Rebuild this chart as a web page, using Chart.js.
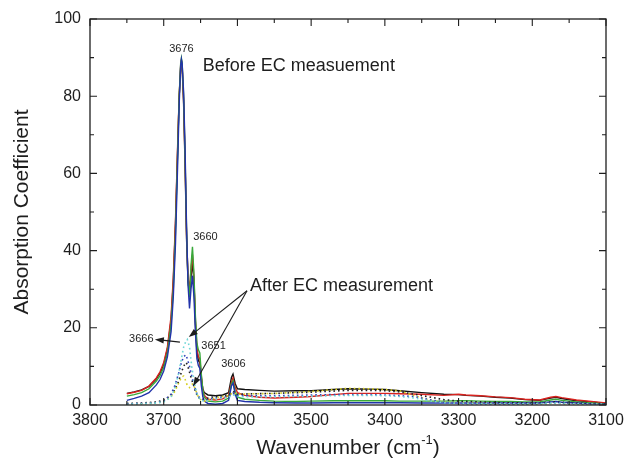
<!DOCTYPE html>
<html>
<head>
<meta charset="utf-8">
<script src="https://cdn.jsdelivr.net/npm/chart.js@4.4.1/dist/chart.umd.min.js"></script>
<style>
  body { margin: 0; background: #fff; }
  #wrap { width: 630px; height: 467px; }
</style>
</head>
<body>
<div id="wrap"><canvas id="chart" width="630" height="467"></canvas></div>
<script>
// wavenumber grid (cm-1) shared by the four "before" spectra
const solidWn = [3750, 3740, 3730, 3720, 3710, 3705, 3700, 3695, 3690, 3687, 3684, 3681, 3679, 3677, 3676, 3675,
  3673, 3671, 3669, 3667, 3665, 3663, 3661, 3659, 3657, 3655, 3653, 3651, 3649, 3647, 3645, 3640, 3630, 3620,
  3612, 3608, 3606, 3603, 3600, 3590, 3570, 3550, 3520, 3500, 3470, 3450, 3420, 3400, 3380, 3350, 3320, 3300,
  3290, 3270, 3250, 3230, 3210, 3190, 3175, 3168, 3160, 3140, 3120, 3100];

const blackSolid = [3.0, 3.4, 3.9, 4.8, 6.8, 8.3, 10.5, 14.5, 22, 32, 47, 67, 80, 87.5, 89, 87.5,
  78, 62, 43, 32, 29, 33, 37, 32, 21, 14, 11.5, 11, 7, 4.2, 3.2, 2.6, 2.4, 2.6,
  3.2, 7.2, 8.0, 5.5, 4.2, 4.0, 3.8, 3.6, 3.7, 3.7, 4.0, 4.2, 4.1, 4.0, 3.7, 3.2, 2.8, 2.7,
  2.5, 2.3, 2.0, 1.8, 1.4, 1.2, 1.8, 2.0, 1.7, 1.1, 0.8, 0.4];
const redSolid = [2.9, 3.3, 3.8, 4.9, 7.0, 8.6, 11, 15, 23, 33, 48, 68, 80, 88, 89.3, 88,
  79, 63, 44, 33, 30, 35, 39, 33, 22, 15, 12.5, 12, 7.5, 4, 2.5, 1.5, 1.3, 1.6,
  2.5, 6.0, 7.0, 4.5, 3.2, 2.5, 2.0, 1.8, 2.0, 2.2, 2.7, 3.0, 3.0, 3.0, 2.9, 2.8, 2.5, 2.8,
  2.6, 2.4, 2.1, 1.9, 1.5, 1.3, 2.0, 2.2, 1.9, 1.3, 0.9, 0.5];
const greenSolid = [2.3, 2.7, 3.2, 4.2, 6.2, 7.6, 9.8, 13.5, 21, 30, 45, 66, 80, 88.5, 89.8, 88.5,
  80, 64, 45, 32, 28, 36, 41, 34, 23, 16, 14.3, 13.5, 8, 4, 2, 1.0, 0.8, 1.0,
  1.8, 5.5, 6.3, 3.5, 2.0, 1.5, 1.2, 1.0, 0.9, 1.0, 1.1, 1.1, 1.1, 1.1, 1.0, 1.0, 1.0, 1.1,
  1.1, 1.0, 0.9, 0.9, 0.8, 0.8, 1.3, 1.5, 1.2, 0.8, 0.5, 0.3];
const blueSolid = [1.2, 1.7, 2.3, 3.2, 5.2, 6.6, 8.8, 12.5, 19, 28, 42, 63, 78, 88, 89.6, 88.5,
  81, 66, 46, 31, 25, 30, 33.5, 28, 19, 12, 10.2, 9.5, 5, 2.2, 1.0, 0.4, 0.2, 0.4,
  1.2, 5.0, 5.7, 2.8, 1.2, 0.9, 0.7, 0.6, 0.5, 0.5, 0.6, 0.6, 0.6, 0.6, 0.6, 0.5, 0.5, 0.5,
  0.5, 0.5, 0.5, 0.5, 0.5, 0.5, 0.8, 0.9, 0.7, 0.5, 0.3, 0.2];

// wavenumber grid shared by the four "after" spectra
const dottedWn = [3750, 3730, 3710, 3700, 3690, 3685, 3680, 3676, 3673, 3670, 3668, 3665, 3662, 3660, 3657,
  3654, 3650, 3645, 3640, 3630, 3620, 3612, 3606, 3600, 3580, 3550, 3520, 3500, 3470, 3450, 3420, 3400,
  3380, 3360, 3340, 3320, 3300, 3270, 3240, 3200, 3170, 3140, 3100];

const blackDotted = [0.4, 0.5, 0.8, 1.2, 2.5, 4, 6, 8.5, 10, 11, 10.5, 8.5, 6.5, 5.5, 3.5,
  2.2, 1.5, 1.5, 1.8, 2.2, 2.4, 2.6, 3.5, 2.8, 2.9, 3.0, 3.2, 3.3, 3.6, 3.8, 3.8, 3.7,
  3.4, 2.8, 2.1, 1.4, 1.0, 0.8, 0.6, 0.5, 0.8, 0.5, 0.3];
const yellowDotted = [0.2, 0.3, 0.5, 1.0, 2.2, 3.5, 5.5, 7.2, 7.5, 6.2, 5.0, 4.5, 5.3, 5.5, 4.0,
  2.5, 1.4, 1.0, 1.2, 1.8, 2.2, 2.4, 3.2, 2.8, 2.9, 3.0, 3.3, 3.5, 4.0, 4.3, 4.2, 4.0,
  3.7, 2.4, 1.3, 0.8, 0.5, 0.4, 0.3, 0.3, 0.4, 0.3, 0.2];
const blueDotted = [0.3, 0.4, 0.6, 1.0, 2.8, 5, 8, 11, 12.5, 13, 12, 10, 7.5, 6, 4,
  2.5, 1.6, 1.3, 1.4, 1.8, 2.0, 2.2, 3.0, 2.5, 2.4, 2.4, 2.5, 2.6, 2.7, 2.7, 2.7, 2.6,
  2.4, 2.2, 1.4, 0.7, 0.4, 0.3, 0.3, 0.3, 0.6, 0.4, 0.2];
const cyanDotted = [0.2, 0.3, 0.5, 0.8, 2.0, 4.5, 8, 12, 15, 16.5, 17, 15, 10, 7.5, 4.5,
  2.5, 1.3, 1.0, 1.1, 1.5, 1.8, 2.0, 2.6, 2.2, 2.1, 2.1, 2.2, 2.3, 2.4, 2.5, 2.5, 2.4,
  2.2, 1.8, 1.1, 0.6, 0.4, 0.3, 0.3, 0.3, 0.5, 0.3, 0.2];

const xTicks = [3800, 3700, 3600, 3500, 3400, 3300, 3200, 3100];
const yTicks = [0, 20, 40, 60, 80, 100];

const FONT = '"Liberation Sans", Arial, Helvetica, sans-serif';
const INK = '#1e1e1e';

function pts(wn, vals) {
  return wn.map((w, i) => ({ x: w, y: vals[i] }));
}

function solid(label, wn, vals, color, order) {
  return { label, data: pts(wn, vals), borderColor: color, borderWidth: 1.4, pointRadius: 0, tension: 0, order };
}
function dotted(label, wn, vals, color, order) {
  return { label, data: pts(wn, vals), borderColor: color, borderWidth: 1.6, borderDash: [1.6, 3],
    pointRadius: 0, tension: 0, order };
}

function arrow(ctx, x1, y1, x2, y2) {
  // line from (x1,y1) with a filled head at (x2,y2)
  const ang = Math.atan2(y2 - y1, x2 - x1);
  const len = 9, half = 3.2;
  ctx.beginPath();
  ctx.moveTo(x1, y1);
  ctx.lineTo(x2 - Math.cos(ang) * len * 0.8, y2 - Math.sin(ang) * len * 0.8);
  ctx.stroke();
  ctx.beginPath();
  ctx.moveTo(x2, y2);
  ctx.lineTo(x2 - Math.cos(ang) * len + Math.sin(ang) * half, y2 - Math.sin(ang) * len - Math.cos(ang) * half);
  ctx.lineTo(x2 - Math.cos(ang) * len - Math.sin(ang) * half, y2 - Math.sin(ang) * len + Math.cos(ang) * half);
  ctx.closePath();
  ctx.fill();
}

const frameAndNotes = {
  id: 'frameAndNotes',
  afterDraw(chart) {
    const { ctx, chartArea: a, scales: { x, y } } = chart;
    ctx.save();
    ctx.strokeStyle = INK;
    ctx.fillStyle = INK;
    ctx.lineWidth = 1.3;
    ctx.strokeRect(a.left, a.top, a.right - a.left, a.bottom - a.top);

    // inward ticks on all four sides
    ctx.lineWidth = 1.1;
    ctx.beginPath();
    for (let v = 3100; v <= 3800; v += 50) {
      const px = x.getPixelForValue(v);
      const len = v % 100 === 0 ? 7 : 4;
      ctx.moveTo(px, a.bottom); ctx.lineTo(px, a.bottom - len);
      ctx.moveTo(px, a.top); ctx.lineTo(px, a.top + len);
    }
    for (let v = 0; v <= 100; v += 10) {
      const py = y.getPixelForValue(v);
      const len = v % 20 === 0 ? 7 : 4;
      ctx.moveTo(a.left, py); ctx.lineTo(a.left + len, py);
      ctx.moveTo(a.right, py); ctx.lineTo(a.right - len, py);
    }
    ctx.stroke();

    // axis titles
    ctx.font = '21px ' + FONT;
    ctx.textBaseline = 'middle';
    ctx.save();
    ctx.translate(22, (a.top + a.bottom) / 2);
    ctx.rotate(-Math.PI / 2);
    ctx.textAlign = 'center';
    ctx.fillText('Absorption Coefficient', 0, 0);
    ctx.restore();

    const main = 'Wavenumber (cm';
    const sup = '-1';
    ctx.font = '21px ' + FONT;
    const wMain = ctx.measureText(main).width;
    const wClose = ctx.measureText(')').width;
    ctx.font = '13px ' + FONT;
    const wSup = ctx.measureText(sup).width;
    const total = wMain + wSup + wClose;
    let tx = (a.left + a.right) / 2 - total / 2;
    const ty = 448;
    ctx.textAlign = 'left';
    ctx.font = '21px ' + FONT;
    ctx.fillText(main, tx, ty);
    ctx.font = '13px ' + FONT;
    ctx.fillText(sup, tx + wMain, ty - 8);
    ctx.font = '21px ' + FONT;
    ctx.fillText(')', tx + wMain + wSup, ty);

    // peak labels and notes
    const X = v => x.getPixelForValue(v);
    const Y = v => y.getPixelForValue(v);
    ctx.font = '11px ' + FONT;
    ctx.textAlign = 'center';
    ctx.fillText('3676', X(3676), Y(92.2));
    ctx.textAlign = 'left';
    ctx.fillText('3660', X(3660), Y(43.6));
    ctx.fillText('3666', X(3747), Y(17));
    ctx.fillText('3651', X(3649), Y(15.3));
    ctx.fillText('3606', X(3622), Y(10.7));

    ctx.font = '18px ' + FONT;
    ctx.fillText('Before EC measuement', X(3647), Y(87.8));
    ctx.fillText('After EC measurement', X(3583), Y(30.9));

    ctx.lineWidth = 1.1;
    arrow(ctx, X(3678), Y(16.3), X(3712), Y(17));
    arrow(ctx, X(3587), Y(29.6), X(3666), Y(17.6));
    arrow(ctx, X(3587), Y(29.6), X(3660), Y(4.9));
    ctx.restore();
  }
};

new Chart(document.getElementById('chart'), {
  type: 'line',
  data: {
    datasets: [
      solid('black', solidWn, blackSolid, '#111111', 8),
      solid('red', solidWn, redSolid, '#d8231f', 7),
      solid('green', solidWn, greenSolid, '#38a83a', 6),
      solid('blue', solidWn, blueSolid, '#2233aa', 5),
      dotted('black after', dottedWn, blackDotted, '#222222', 4),
      dotted('yellow after', dottedWn, yellowDotted, '#d6cf1e', 3),
      dotted('blue after', dottedWn, blueDotted, '#3344bb', 2),
      dotted('cyan after', dottedWn, cyanDotted, '#6fd6d6', 1)
    ]
  },
  options: {
    responsive: false,
    animation: false,
    layout: { padding: { top: 19, right: 24, left: 0, bottom: 0 } },
    plugins: { legend: { display: false }, tooltip: { enabled: false } },
    scales: {
      x: {
        type: 'linear',
        reverse: true,
        min: 3100,
        max: 3800,
        afterBuildTicks: s => { s.ticks = xTicks.map(v => ({ value: v })); },
        afterFit: s => { s.height = 62; },
        grid: { display: false, drawTicks: false },
        border: { display: false },
        ticks: { color: INK, padding: 6, maxRotation: 0, font: { family: FONT, size: 16 }, callback: v => String(v) }
      },
      y: {
        min: 0,
        max: 100,
        afterBuildTicks: s => { s.ticks = yTicks.map(v => ({ value: v })); },
        afterFit: s => { s.width = 90; },
        grid: { display: false, drawTicks: false },
        border: { display: false },
        ticks: { color: INK, padding: 9, font: { family: FONT, size: 16 }, callback: v => String(v) }
      }
    }
  },
  plugins: [frameAndNotes]
});
</script>
</body>
</html>
